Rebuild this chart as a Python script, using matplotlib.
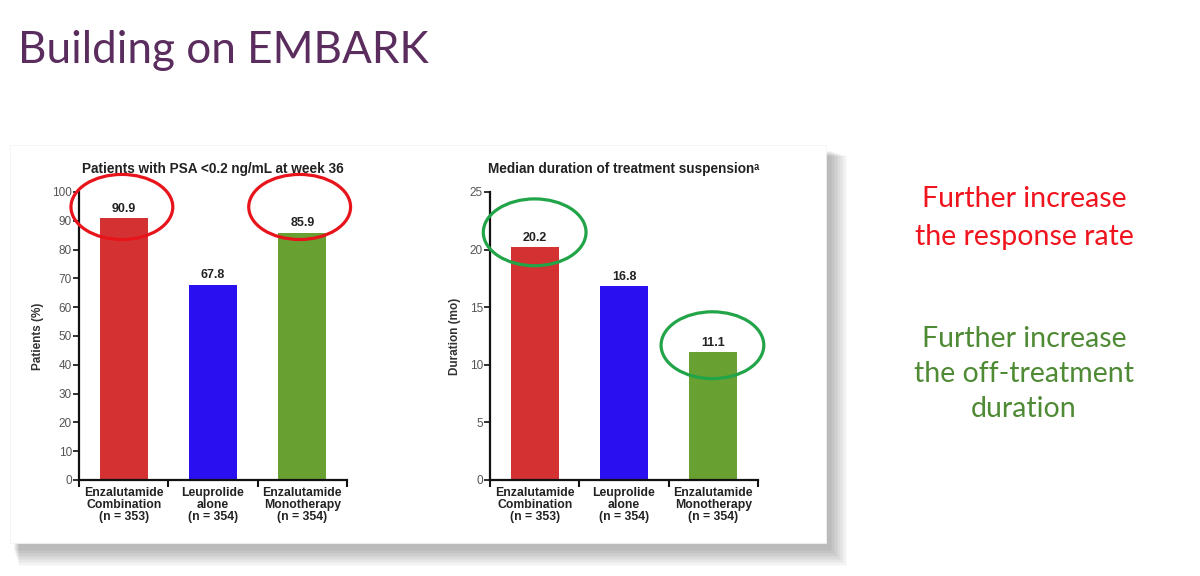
import matplotlib
matplotlib.use("Agg")
import matplotlib.pyplot as plt
from matplotlib.patches import Ellipse, Rectangle

# ---- data ----
categories = ["Enzalutamide\nCombination\n(n = 353)",
              "Leuprolide\nalone\n(n = 354)",
              "Enzalutamide\nMonotherapy\n(n = 354)"]
psa_values = [90.9, 67.8, 85.9]
duration_values = [20.2, 16.8, 11.1]
bar_colors = ["#d43232", "#2a10f0", "#68a032"]
psa_ticks = list(range(0, 101, 10))
dur_ticks = list(range(0, 26, 5))
title_text = "Building on EMBARK"
left_title = "Patients with PSA <0.2 ng/mL at week 36"
right_title = "Median duration of treatment suspension\u1d43"
side_red = "Further increase\nthe response rate"
side_green = "Further increase\nthe off-treatment\nduration"

W, H = 1200, 576
fig = plt.figure(figsize=(W / 100, H / 100), dpi=100)
fig.patch.set_facecolor("white")

# overlay in pixel coordinates for background decoration
bg = fig.add_axes([0, 0, 1, 1], zorder=0)
bg.set_xlim(0, W)
bg.set_ylim(H, 0)
bg.axis("off")

# card with soft shadow
cx0, cy0, cx1, cy1 = 10, 145, 826, 543
for i in range(12, 0, -1):
    bg.add_patch(Rectangle((cx0 + 3 + i * 0.5, cy0 + 5 + i * 0.5), (cx1 - cx0) + i * 1.0, (cy1 - cy0) + i * 1.0,
                           facecolor="#000000", alpha=0.025, edgecolor="none"))
bg.add_patch(Rectangle((cx0, cy0), cx1 - cx0, cy1 - cy0, facecolor="white", edgecolor="#f2f2f2", lw=0.5))

fig.text(18 / W, 1 - 63 / H, title_text, fontsize=31.8, color="#5b2c5e",
         family="Lato", va="baseline", ha="left")

fig.text(1024 / W, 1 - 218 / H, side_red, fontsize=20.5, color="#f0141e",
         family="Lato", va="center", ha="center", linespacing=1.55)
fig.text(1024 / W, 1 - 374 / H, side_green, fontsize=20.5, color="#4f8a34",
         family="Lato", va="center", ha="center", linespacing=1.42)

FONT = "Liberation Sans"


def make_chart(left_px, values, ticks, ymax, title, ylabel, ellipses, ecolor):
    ax = fig.add_axes([left_px / W, (H - 480) / H, 268 / W, 288 / H], zorder=2)
    ax.patch.set_alpha(0)
    x = list(range(len(values)))
    ax.bar(x, values, width=0.54, color=bar_colors)
    ax.set_xlim(-0.5, 2.5)
    ax.set_ylim(0, ymax)
    ax.set_yticks(ticks)
    ax.set_yticklabels([str(t) for t in ticks], fontsize=8.5, color="#555555", family=FONT)
    ax.set_xticks(x)
    ax.set_xticklabels(categories, fontsize=8.8, fontweight="bold", color="#222222",
                       family=FONT, linespacing=1.0)
    ax.tick_params(axis="x", which="major", length=0, pad=5)
    ax.set_xticks([-0.5, 0.5, 1.5, 2.5], minor=True)
    ax.tick_params(axis="x", which="minor", length=5, width=1.5, color="#111111", direction="out")
    ax.tick_params(axis="y", length=4, width=1.2, color="#111111", pad=1)
    for s in ["top", "right"]:
        ax.spines[s].set_visible(False)
    for s in ["left", "bottom"]:
        ax.spines[s].set_linewidth(1.6)
        ax.spines[s].set_color("#111111")
    ax.set_ylabel(ylabel, fontsize=8.5, fontweight="bold", color="#333333", family=FONT, labelpad=6)
    ax.set_title(title, fontsize=9.8, fontweight="bold", color="#222222", family=FONT, pad=14)
    for xi, v in zip(x, values):
        ax.text(xi, v + ymax * 0.012, f"{v:.1f}", ha="center", va="bottom", fontsize=9,
                fontweight="bold", color="#222222", family=FONT)
    for (ex, ey, ew, eh) in ellipses:
        ax.add_patch(Ellipse((ex, ey), ew, eh, fill=False, edgecolor=ecolor, lw=2.3, clip_on=False, zorder=5))
    return ax


make_chart(79, psa_values, psa_ticks, 100, left_title, "Patients (%)",
           [(-0.02, 94.8, 1.14, 22.6), (1.97, 94.8, 1.14, 22.6)], "#e8141c")
make_chart(490, duration_values, dur_ticks, 25, right_title, "Duration (mo)",
           [(0.0, 21.5, 1.15, 5.8), (1.99, 11.7, 1.15, 5.8)], "#22a448")

fig.savefig("out.png", dpi=100, facecolor="white")
